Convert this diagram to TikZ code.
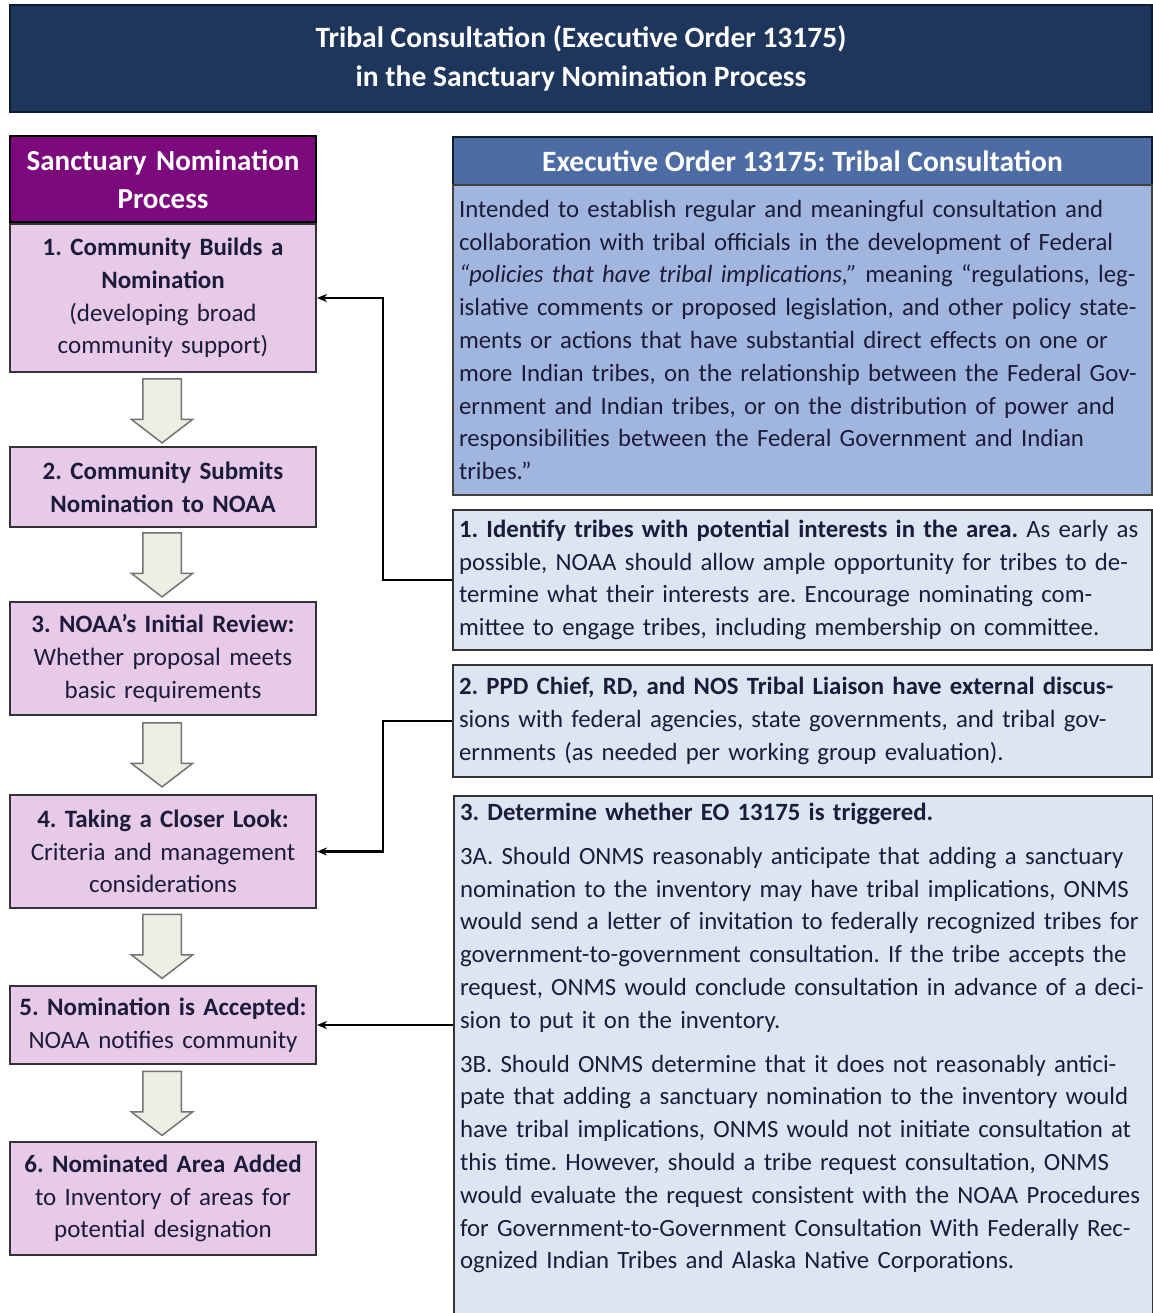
\documentclass[tikz,border=0pt]{standalone}
\usepackage{fontspec}
\setmainfont{Carlito}
\frenchspacing
\usetikzlibrary{shapes.arrows, arrows.meta, positioning}

\definecolor{navy}{RGB}{30,54,92}
\definecolor{navyline}{RGB}{14,28,52}
\definecolor{plum}{RGB}{125,10,125}
\definecolor{pinkfill}{RGB}{231,202,231}
\definecolor{stepblue}{RGB}{78,108,164}
\definecolor{bodyblue}{RGB}{160,182,223}
\definecolor{paleblue}{RGB}{220,230,243}
\definecolor{darktxt}{RGB}{28,28,58}
\definecolor{greyfill}{RGB}{238,238,228}

\tikzstyle{banner}=[rectangle, draw=navyline, fill=navy, line width=2pt, text=white, align=center, font=\fontsize{29.5}{39}\selectfont\bfseries, minimum width=1142pt, minimum height=107pt]
\tikzstyle{prochead}=[rectangle, draw=black, fill=plum, line width=2pt, text=white, text width=296pt, align=center, font=\fontsize{29}{38}\selectfont\bfseries, minimum width=306pt, inner xsep=5pt]
\tikzstyle{procbox}=[rectangle, draw=black!80, fill=pinkfill, line width=2pt, text=darktxt, text width=296pt, align=center, font=\fontsize{25}{32.7}\selectfont, minimum width=306pt, inner xsep=5pt]
\tikzstyle{eohead}=[rectangle, draw=navyline, fill=stepblue, line width=2pt, text=white, align=center, font=\fontsize{29.5}{30}\selectfont\bfseries, minimum width=699pt, minimum height=48pt]
\tikzstyle{eobody}=[rectangle, draw=black!75, fill=bodyblue, line width=2pt, text=darktxt, text width=687pt, align=left, font=\fontsize{24.8}{32.8}\selectfont, minimum width=699pt, inner xsep=6pt]
\tikzstyle{stepbox}=[rectangle, draw=black!80, fill=paleblue, line width=2pt, text=darktxt, text width=687pt, align=left, font=\fontsize{24.8}{32.8}\selectfont, minimum width=699pt, inner xsep=6pt]
\tikzstyle{blockdown}=[single arrow, shape border rotate=270, draw=black!55, fill=greyfill, line width=1.5pt, minimum height=64pt, minimum width=60pt, single arrow head extend=11.5pt, single arrow tip angle=105, inner sep=18.5pt]
\tikzstyle{arrow}=[-{Stealth[length=10pt,width=8pt]}, line width=2.5pt]

\begin{document}
\begin{tikzpicture}[x=1pt, y=-1pt]
\useasboundingbox (0,0) rectangle (1152,1313);

% Title
\node[banner] (title) at (581,58.5) {Tribal Consultation (Executive Order 13175)\\ in the Sanctuary Nomination Process};

% Nomination steps
\node[prochead, minimum height=86pt] (proc) at (163,179) {Sanctuary Nomination\\ Process};
\node[procbox, minimum height=148pt] (b1) at (163,298) {\textbf{1. Community Builds a}\\ \textbf{Nomination}\\ (developing broad\\ community support)};
\node[procbox, minimum height=80pt] (b2) at (163,487) {\textbf{2. Community Submits}\\ \textbf{Nomination to NOAA}};
\node[procbox, minimum height=113pt] (b3) at (163,658.5) {\textbf{3. NOAA’s Initial Review:}\\ Whether proposal meets\\ basic requirements};
\node[procbox, minimum height=113pt] (b4) at (163,851.5) {\textbf{4. Taking a Closer Look:}\\ Criteria and management\\ considerations};
\node[procbox, minimum height=78pt] (b5) at (163,1025) {\textbf{5. Nomination is Accepted:}\\ NOAA notifies community};
\node[procbox, minimum height=113pt] (b6) at (163,1198.5) {\textbf{6. Nominated Area Added}\\ to Inventory of areas for\\ potential designation};

% Block arrows
\node[blockdown] (a1) at (162,403.5) {};
\node[blockdown] (a2) at (162,557.5) {};
\node[blockdown] (a3) at (162,747.5) {};
\node[blockdown] (a4) at (162,939) {};
\node[blockdown] (a5) at (162,1096) {};

% EO 13175
\node[eohead] (eo) at (802.5,161) {Executive Order 13175: Tribal Consultation};
\node[eobody, minimum height=310pt] (eotext) at (802.5,340) {Intended to establish regular and meaningful consultation and\\ collaboration with tribal officials in the development of Federal\\ \textit{“policies that have tribal implications,”} meaning “regulations, leg-\\ islative comments or proposed legislation, and other policy state-\\ ments or actions that have substantial direct effects on one or\\ more Indian tribes, on the relationship between the Federal Gov-\\ ernment and Indian tribes, or on the distribution of power and\\ responsibilities between the Federal Government and Indian\\ tribes.”};

% Consultation steps
\node[stepbox, minimum height=140pt] (r1) at (802.5,580) {\textbf{1. Identify tribes with potential interests in the area.} As early as\\ possible, NOAA should allow ample opportunity for tribes to de-\\ termine what their interests are. Encourage nominating com-\\ mittee to engage tribes, including membership on committee.};
\node[stepbox, minimum height=112pt] (r2) at (802.5,721) {\textbf{2. PPD Chief, RD, and NOS Tribal Liaison have external discus-}\\ sions with federal agencies, state governments, and tribal gov-\\ ernments (as needed per working group evaluation).};
\node[stepbox, anchor=north west, inner ysep=7pt] (r3) at (453,795) {\parbox[t][505pt][t]{687pt}{\textbf{3. Determine whether EO 13175 is triggered.}\\[11pt]
3A. Should ONMS reasonably anticipate that adding a sanctuary\\
nomination to the inventory may have tribal implications, ONMS\\
would send a letter of invitation to federally recognized tribes for\\
government-to-government consultation. If the tribe accepts the\\
request, ONMS would conclude consultation in advance of a deci-\\
sion to put it on the inventory.\\[11pt]
3B. Should ONMS determine that it does not reasonably antici-\\
pate that adding a sanctuary nomination to the inventory would\\
have tribal implications, ONMS would not initiate consultation at\\
this time. However, should a tribe request consultation, ONMS\\
would evaluate the request consistent with the NOAA Procedures\\
for Government-to-Government Consultation With Federally Rec-\\
ognized Indian Tribes and Alaska Native Corporations.}};

% Links to the nomination steps
\draw[arrow] (r1.west) -- ++(-69,0) |- (b1.east);
\draw[arrow] (r2.west) -- ++(-69,0) |- (b4.east);
\draw[arrow] (r3.west |- b5.east) -- (b5.east);

\end{tikzpicture}
\end{document}
